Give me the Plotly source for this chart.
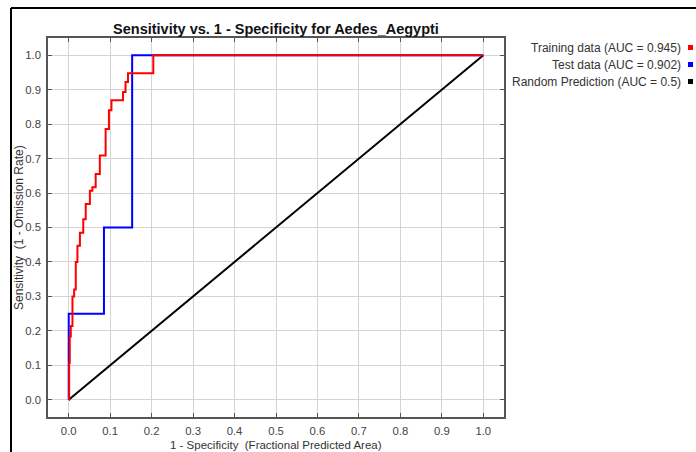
import plotly.graph_objects as go

# ---- data ----
train_fpr = [0.0, 0.001, 0.0025, 0.005, 0.009, 0.013, 0.017, 0.021, 0.027, 0.035, 0.041,
             0.051, 0.057, 0.065, 0.075, 0.089, 0.097, 0.103, 0.131, 0.137, 0.143, 0.204, 1.0]
train_tpr = [0.0, 0.107, 0.184, 0.214, 0.300, 0.320, 0.400, 0.447, 0.485, 0.524, 0.568,
             0.607, 0.617, 0.655, 0.709, 0.786, 0.840, 0.869, 0.893, 0.922, 0.948, 1.0, 1.0]
test_fpr = [0.0, 0.0, 0.085, 0.153, 1.0]
test_tpr = [0.0, 0.25, 0.5, 1.0, 1.0]
rand_fpr = [0.0, 1.0]
rand_tpr = [0.0, 1.0]
legend_labels = ["Training data (AUC = 0.945)", "Test data (AUC = 0.902)",
                 "Random Prediction (AUC = 0.5)"]
legend_colors = ["#ff0000", "#0000ff", "#000000"]
tick_vals = [0.0, 0.1, 0.2, 0.3, 0.4, 0.5, 0.6, 0.7, 0.8, 0.9, 1.0]
tick_text = ["0.0", "0.1", "0.2", "0.3", "0.4", "0.5", "0.6", "0.7", "0.8", "0.9", "1.0"]

FONT = "Liberation Sans, Arial, sans-serif"

fig = go.Figure()
fig.add_trace(go.Scatter(x=rand_fpr, y=rand_tpr, mode="lines",
                         line=dict(color=legend_colors[2], width=2), name=legend_labels[2]))
fig.add_trace(go.Scatter(x=test_fpr, y=test_tpr, mode="lines", line_shape="hv",
                         line=dict(color=legend_colors[1], width=2), name=legend_labels[1]))
fig.add_trace(go.Scatter(x=train_fpr, y=train_tpr, mode="lines", line_shape="hv",
                         line=dict(color=legend_colors[0], width=2), name=legend_labels[0]))

W, H = 696, 452
L, R, T, B = 48, 192, 38, 35
pw, ph = W - L - R, H - T - B

def px(x):
    return (x - L) / pw

def py(y):
    return (H - B - y) / ph

axis_common = dict(
    range=[-0.05, 1.05], tickvals=tick_vals, ticktext=tick_text,
    ticks="inside", ticklen=4, tickcolor="#555", tickwidth=1,
    showgrid=True, gridcolor="#d4d4d4", gridwidth=1,
    showline=True, linecolor="#555", linewidth=1.5, mirror="ticks",
    zeroline=False, tickfont=dict(family=FONT, size=11.3, color="#444"),
    fixedrange=True,
)

fig.update_layout(
    width=W, height=H,
    margin=dict(l=L, r=R, t=T, b=B),
    paper_bgcolor="white", plot_bgcolor="white",
    showlegend=False,
    xaxis=dict(**axis_common, ticklabelstandoff=3),
    yaxis=dict(**axis_common, ticklabelstandoff=3),
    title=dict(text="<b>Sensitivity vs. 1 - Specificity for Aedes_Aegypti</b>",
               x=0.5, xref="paper", xanchor="center",
               y=1 - 29 / H, yref="container", yanchor="middle",
               font=dict(family=FONT, size=14.5, color="#111")),
)

annotations = [
    dict(text="1 - Specificity\u00a0 (Fractional Predicted Area)", xref="paper", yref="paper",
         x=px(276), y=py(444.5), xanchor="center", yanchor="middle", showarrow=False,
         font=dict(family=FONT, size=11.5, color="#333")),
    dict(text="Sensitivity\u00a0 (1 - Omission Rate)", xref="paper", yref="paper",
         x=px(19), y=py(228), xanchor="center", yanchor="middle", showarrow=False,
         textangle=-90, font=dict(family=FONT, size=12, color="#333")),
]
shapes = [
    dict(type="line", xref="paper", yref="paper", x0=px(11), x1=px(11), y0=py(8), y1=py(460),
         line=dict(color="black", width=2)),
    dict(type="line", xref="paper", yref="paper", x0=px(11), x1=px(700), y0=py(8), y1=py(8),
         line=dict(color="black", width=2)),
]
for i, (lab, col) in enumerate(zip(legend_labels, legend_colors)):
    yc = 48 + 17 * i
    annotations.append(dict(text=lab, xref="paper", yref="paper", x=px(683), y=py(yc),
                            xanchor="right", yanchor="middle", showarrow=False,
                            font=dict(family=FONT, size=12, color="#333")))
    shapes.append(dict(type="rect", xref="paper", yref="paper",
                       x0=px(688), x1=px(693), y0=py(yc - 3), y1=py(yc + 2),
                       fillcolor=col, line=dict(width=0)))

fig.update_layout(annotations=annotations, shapes=shapes)
fig.write_html("out.html")
